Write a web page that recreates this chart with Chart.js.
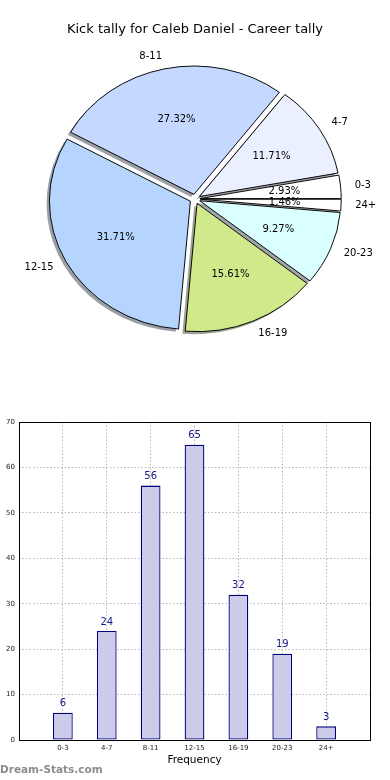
<!DOCTYPE html>
<html><head><meta charset="utf-8">
<script src="https://cdn.jsdelivr.net/npm/chart.js@4/dist/chart.umd.min.js"></script>
<style>
html,body{margin:0;padding:0;background:#fff;}
canvas{display:block;}
</style></head><body>
<canvas id="pie" width="390" height="400"></canvas>
<canvas id="bar" width="390" height="380"></canvas>
<script>
const chartTitle = 'Kick tally for Caleb Daniel - Career tally';
const categories = ['0-3', '4-7', '8-11', '12-15', '16-19', '20-23', '24+'];
const frequency = [6, 24, 56, 65, 32, 19, 3];
const sliceColors = ['#ffffff', '#eaf0ff', '#c5d8ff', '#b5d5ff', '#d0e98b', '#d9ffff', '#ffffff'];
const yTicks = [0, 10, 20, 30, 40, 50, 60, 70];
const xAxisTitle = 'Frequency';
const watermark = 'Dream-Stats.com';

const total = frequency.reduce((a, b) => a + b, 0);
const EXPLODE = 0.037;   // wedge explode, fraction of radius
const SY = 0.91;         // vertical squash of the pie (non-equal aspect)
const SHADOW = 0.02;     // shadow offset, fraction of radius

function shadowColor(hex) {
  const n = parseInt(hex.slice(1), 16);
  const r = (n >> 16) & 255, g = (n >> 8) & 255, b = n & 255;
  return 'rgba(' + Math.round(r * 0.3) + ',' + Math.round(g * 0.3) + ',' + Math.round(b * 0.3) + ',0.5)';
}

// pie goes counter-clockwise from 3 o'clock in the reference -> reverse for Chart.js (clockwise)
const pieLabels = categories.slice().reverse();
const pieValues = frequency.slice().reverse();
const pieColors = sliceColors.slice().reverse();

const mplPie = {
  id: 'mplPie',
  beforeDatasetsDraw(chart) {
    const ctx = chart.ctx;
    const els = chart.getDatasetMeta(0).data;
    const ds = chart.data.datasets[0];
    const cx = els[0].x, cy = els[0].y;
    const geo = els.map(el => ({a: (el.startAngle + el.endAngle) / 2, r: el.outerRadius, d: EXPLODE * el.outerRadius}));
    // shadows (all below wedges)
    els.forEach((el, i) => {
      const g = geo[i];
      ctx.save();
      ctx.translate(cx, cy); ctx.scale(1, SY); ctx.translate(-cx, -cy);
      ctx.translate(Math.cos(g.a) * g.d - SHADOW * g.r, Math.sin(g.a) * g.d + SHADOW * g.r);
      ctx.beginPath();
      ctx.moveTo(cx, cy);
      ctx.arc(cx, cy, g.r, el.startAngle, el.endAngle);
      ctx.closePath();
      ctx.fillStyle = shadowColor(ds.backgroundColor[i]);
      ctx.fill();
      ctx.restore();
    });
    // wedges
    els.forEach((el, i) => {
      const g = geo[i];
      ctx.save();
      ctx.translate(cx, cy); ctx.scale(1, SY); ctx.translate(-cx, -cy);
      ctx.translate(Math.cos(g.a) * g.d, Math.sin(g.a) * g.d);
      el.draw(ctx);
      ctx.restore();
    });
    // labels
    ctx.save();
    ctx.fillStyle = '#000';
    ctx.font = '10px "DejaVu Sans"';
    ctx.textBaseline = 'middle';
    els.forEach((el, i) => {
      const g = geo[i];
      const c = Math.cos(g.a), s = Math.sin(g.a);
      const lx = cx + c * (g.d + 1.1 * g.r), ly = cy + s * (g.d + 1.1 * g.r) * SY;
      ctx.textAlign = c < 0 ? 'right' : 'left';
      ctx.fillText(chart.data.labels[i], lx, ly);
      const px = cx + c * (g.d + 0.6 * g.r), py = cy + s * (g.d + 0.6 * g.r) * SY;
      ctx.textAlign = 'center';
      ctx.fillText((ds.data[i] / total * 100).toFixed(2) + '%', px, py);
    });
    ctx.restore();
    return false;
  }
};

new Chart(document.getElementById('pie'), {
  type: 'pie',
  data: {
    labels: pieLabels,
    datasets: [{
      data: pieValues,
      backgroundColor: pieColors,
      borderColor: '#000',
      borderWidth: 1,
      offset: 0,
      hoverOffset: 0
    }]
  },
  options: {
    responsive: false,
    animation: false,
    devicePixelRatio: 1,
    rotation: 90,
    radius: 141,
    layout: {padding: {top: 0, left: 0, right: 0, bottom: 39.8}},
    plugins: {
      legend: {display: false},
      tooltip: {enabled: false},
      title: {
        display: true,
        text: chartTitle,
        color: '#000',
        font: {family: 'DejaVu Sans', size: 13, weight: 'normal', lineHeight: 1.2},
        padding: {top: 22.2, bottom: 0}
      }
    }
  },
  plugins: [mplPie]
});

const barLabels = [''].concat(categories, ['']);
const barValues = [null].concat(frequency, [null]);

const barExtras = {
  id: 'barExtras',
  afterDraw(chart) {
    const ctx = chart.ctx;
    const a = chart.chartArea;
    ctx.save();
    // axes box
    ctx.strokeStyle = '#000';
    ctx.lineWidth = 1;
    ctx.strokeRect(Math.round(a.left) + 0.5, Math.round(a.top) + 0.5, Math.round(a.right - a.left), Math.round(a.bottom - a.top));
    // value labels
    const meta = chart.getDatasetMeta(0);
    ctx.fillStyle = '#14148a';
    ctx.font = '10px "DejaVu Sans"';
    ctx.textAlign = 'center';
    ctx.textBaseline = 'middle';
    meta.data.forEach((el, i) => {
      const v = chart.data.datasets[0].data[i];
      if (v === null) return;
      ctx.fillText(String(v), el.x, el.y - 9);
    });
    // watermark
    ctx.fillStyle = '#8c8c8c';
    ctx.font = 'bold 10.5px "DejaVu Sans"';
    ctx.textAlign = 'left';
    ctx.fillText(watermark, 0, chart.height - 10);
    ctx.restore();
  }
};

const tickFont = {family: 'DejaVu Sans', size: 7};
new Chart(document.getElementById('bar'), {
  type: 'bar',
  data: {
    labels: barLabels,
    datasets: [{
      data: barValues,
      backgroundColor: '#ccccea',
      borderColor: '#00007a',
      borderWidth: 1.3,
      borderSkipped: false,
      inflateAmount: 0,
      barPercentage: 0.45,
      categoryPercentage: 1
    }]
  },
  options: {
    responsive: false,
    animation: false,
    devicePixelRatio: 1,
    layout: {padding: {top: 22, right: 20, left: 0, bottom: 0}},
    plugins: {legend: {display: false}, tooltip: {enabled: false}},
    scales: {
      x: {
        offset: false,
        z: 1,
        grid: {offset: false, color: '#b8b8b8', lineWidth: 1, drawTicks: false},
        border: {display: false, dash: [1.5, 2]},
        ticks: {autoSkip: false, maxRotation: 0, minRotation: 0, padding: 4, color: '#222', font: tickFont},
        title: {display: true, text: xAxisTitle, color: '#000', font: {family: 'DejaVu Sans', size: 10.5}, padding: {top: 0, bottom: 13.7}},
        afterFit(s) { s.height = 40; }
      },
      y: {
        min: yTicks[0],
        max: yTicks[yTicks.length - 1],
        z: 1,
        grid: {color: '#b8b8b8', lineWidth: 1, drawTicks: false},
        border: {display: false, dash: [1.5, 2]},
        ticks: {stepSize: yTicks[1] - yTicks[0], padding: 4, color: '#222', font: tickFont},
        afterFit(s) { s.width = 19; }
      }
    }
  },
  plugins: [barExtras]
});
</script>
</body></html>
